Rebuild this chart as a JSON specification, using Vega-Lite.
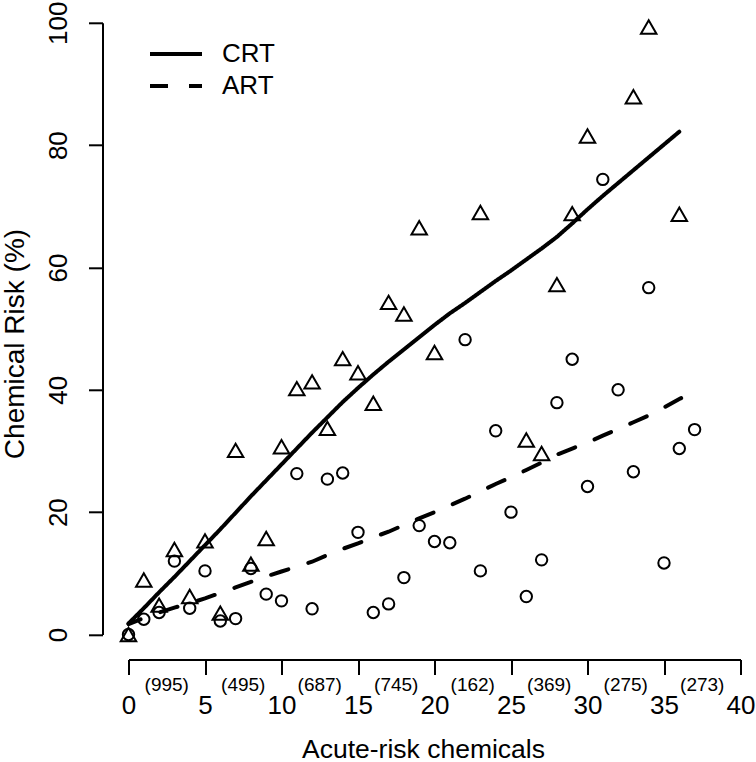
{
  "$schema": "https://vega.github.io/schema/vega-lite/v6.json",
  "width": 612,
  "height": 611.7,
  "autosize": {"type": "none"},
  "padding": {"left": 128.5, "top": 22.8, "right": 15.5, "bottom": 127.5},
  "background": "white",
  "config": {
    "view": {"stroke": null},
    "font": "Liberation Sans",
    "axis": {
      "domainColor": "black", "domainWidth": 2, "tickColor": "black", "tickWidth": 2,
      "labelColor": "black", "titleColor": "black", "titleFontWeight": "normal",
      "grid": false, "labelFont": "Liberation Sans", "titleFont": "Liberation Sans",
      "labelFlush": false, "labelOverlap": false
    }
  },
  "datasets": {
    "points": [
      {"x": 0, "y": 0, "series": "CRT"}, {"x": 1, "y": 8.9, "series": "CRT"}, {"x": 2, "y": 4.8, "series": "CRT"},
      {"x": 3, "y": 13.9, "series": "CRT"}, {"x": 4, "y": 6.2, "series": "CRT"}, {"x": 5, "y": 15.3, "series": "CRT"},
      {"x": 6, "y": 3.5, "series": "CRT"}, {"x": 7, "y": 30.1, "series": "CRT"}, {"x": 8, "y": 11.5, "series": "CRT"},
      {"x": 9, "y": 15.7, "series": "CRT"}, {"x": 10, "y": 30.7, "series": "CRT"}, {"x": 11, "y": 40.2, "series": "CRT"},
      {"x": 12, "y": 41.3, "series": "CRT"}, {"x": 13, "y": 33.7, "series": "CRT"}, {"x": 14, "y": 45.1, "series": "CRT"},
      {"x": 15, "y": 42.8, "series": "CRT"}, {"x": 16, "y": 37.8, "series": "CRT"}, {"x": 17, "y": 54.3, "series": "CRT"},
      {"x": 18, "y": 52.4, "series": "CRT"}, {"x": 19, "y": 66.5, "series": "CRT"}, {"x": 20, "y": 46.1, "series": "CRT"},
      {"x": 23, "y": 69.0, "series": "CRT"}, {"x": 26, "y": 31.8, "series": "CRT"}, {"x": 27, "y": 29.6, "series": "CRT"},
      {"x": 28, "y": 57.2, "series": "CRT"}, {"x": 29, "y": 68.8, "series": "CRT"}, {"x": 30, "y": 81.5, "series": "CRT"},
      {"x": 33, "y": 87.9, "series": "CRT"}, {"x": 34, "y": 99.3, "series": "CRT"}, {"x": 36, "y": 68.7, "series": "CRT"},
      {"x": 0, "y": 0, "series": "ART"}, {"x": 1, "y": 2.5, "series": "ART"}, {"x": 2, "y": 3.6, "series": "ART"},
      {"x": 3, "y": 12.0, "series": "ART"}, {"x": 4, "y": 4.3, "series": "ART"}, {"x": 5, "y": 10.4, "series": "ART"},
      {"x": 6, "y": 2.2, "series": "ART"}, {"x": 7, "y": 2.6, "series": "ART"}, {"x": 8, "y": 10.8, "series": "ART"},
      {"x": 9, "y": 6.6, "series": "ART"}, {"x": 10, "y": 5.5, "series": "ART"}, {"x": 11, "y": 26.3, "series": "ART"},
      {"x": 12, "y": 4.2, "series": "ART"}, {"x": 13, "y": 25.4, "series": "ART"}, {"x": 14, "y": 26.4, "series": "ART"},
      {"x": 15, "y": 16.7, "series": "ART"}, {"x": 16, "y": 3.6, "series": "ART"}, {"x": 17, "y": 5.0, "series": "ART"},
      {"x": 18, "y": 9.3, "series": "ART"}, {"x": 19, "y": 17.8, "series": "ART"}, {"x": 20, "y": 15.2, "series": "ART"},
      {"x": 21, "y": 15.0, "series": "ART"}, {"x": 22, "y": 48.2, "series": "ART"}, {"x": 23, "y": 10.4, "series": "ART"},
      {"x": 24, "y": 33.3, "series": "ART"}, {"x": 25, "y": 20.0, "series": "ART"}, {"x": 26, "y": 6.2, "series": "ART"},
      {"x": 27, "y": 12.2, "series": "ART"}, {"x": 28, "y": 37.9, "series": "ART"}, {"x": 29, "y": 45.0, "series": "ART"},
      {"x": 30, "y": 24.2, "series": "ART"}, {"x": 31, "y": 74.4, "series": "ART"}, {"x": 32, "y": 40.0, "series": "ART"},
      {"x": 33, "y": 26.6, "series": "ART"}, {"x": 34, "y": 56.7, "series": "ART"}, {"x": 35, "y": 11.7, "series": "ART"},
      {"x": 36, "y": 30.4, "series": "ART"}, {"x": 37, "y": 33.5, "series": "ART"}
    ],
    "fits": [
      {"x": 0, "y": 1.8, "series": "CRT"}, {"x": 1, "y": 4.3, "series": "CRT"}, {"x": 2, "y": 6.9, "series": "CRT"},
      {"x": 3, "y": 9.4, "series": "CRT"}, {"x": 4, "y": 12.0, "series": "CRT"}, {"x": 5, "y": 14.6, "series": "CRT"},
      {"x": 6, "y": 17.2, "series": "CRT"}, {"x": 7, "y": 19.9, "series": "CRT"}, {"x": 8, "y": 22.6, "series": "CRT"},
      {"x": 9, "y": 25.2, "series": "CRT"}, {"x": 10, "y": 27.8, "series": "CRT"}, {"x": 11, "y": 30.4, "series": "CRT"},
      {"x": 12, "y": 33.0, "series": "CRT"}, {"x": 13, "y": 35.5, "series": "CRT"}, {"x": 14, "y": 38.0, "series": "CRT"},
      {"x": 15, "y": 40.3, "series": "CRT"}, {"x": 16, "y": 42.5, "series": "CRT"}, {"x": 17, "y": 44.6, "series": "CRT"},
      {"x": 18, "y": 46.6, "series": "CRT"}, {"x": 19, "y": 48.6, "series": "CRT"}, {"x": 20, "y": 50.6, "series": "CRT"},
      {"x": 21, "y": 52.5, "series": "CRT"}, {"x": 22, "y": 54.2, "series": "CRT"}, {"x": 23, "y": 56.0, "series": "CRT"},
      {"x": 24, "y": 57.8, "series": "CRT"}, {"x": 25, "y": 59.5, "series": "CRT"}, {"x": 26, "y": 61.3, "series": "CRT"},
      {"x": 27, "y": 63.1, "series": "CRT"}, {"x": 28, "y": 65.0, "series": "CRT"}, {"x": 29, "y": 67.2, "series": "CRT"},
      {"x": 30, "y": 69.5, "series": "CRT"}, {"x": 31, "y": 71.7, "series": "CRT"}, {"x": 32, "y": 73.8, "series": "CRT"},
      {"x": 33, "y": 75.9, "series": "CRT"}, {"x": 34, "y": 78.0, "series": "CRT"}, {"x": 35, "y": 80.1, "series": "CRT"},
      {"x": 36, "y": 82.2, "series": "CRT"},
      {"x": 0, "y": 1.7, "series": "ART"}, {"x": 1, "y": 2.7, "series": "ART"}, {"x": 2, "y": 3.6, "series": "ART"},
      {"x": 3, "y": 4.4, "series": "ART"}, {"x": 4, "y": 5.1, "series": "ART"}, {"x": 5, "y": 5.9, "series": "ART"},
      {"x": 6, "y": 6.8, "series": "ART"}, {"x": 7, "y": 7.7, "series": "ART"}, {"x": 8, "y": 8.6, "series": "ART"},
      {"x": 9, "y": 9.5, "series": "ART"}, {"x": 10, "y": 10.3, "series": "ART"}, {"x": 11, "y": 11.1, "series": "ART"},
      {"x": 12, "y": 11.9, "series": "ART"}, {"x": 13, "y": 13.0, "series": "ART"}, {"x": 14, "y": 14.0, "series": "ART"},
      {"x": 15, "y": 14.9, "series": "ART"}, {"x": 16, "y": 15.9, "series": "ART"}, {"x": 17, "y": 16.8, "series": "ART"},
      {"x": 18, "y": 17.9, "series": "ART"}, {"x": 19, "y": 19.0, "series": "ART"}, {"x": 20, "y": 20.0, "series": "ART"},
      {"x": 21, "y": 21.1, "series": "ART"}, {"x": 22, "y": 22.2, "series": "ART"}, {"x": 23, "y": 23.4, "series": "ART"},
      {"x": 24, "y": 24.6, "series": "ART"}, {"x": 25, "y": 25.7, "series": "ART"}, {"x": 26, "y": 26.9, "series": "ART"},
      {"x": 27, "y": 28.1, "series": "ART"}, {"x": 28, "y": 29.4, "series": "ART"}, {"x": 29, "y": 30.4, "series": "ART"},
      {"x": 30, "y": 31.4, "series": "ART"}, {"x": 31, "y": 32.5, "series": "ART"}, {"x": 32, "y": 33.6, "series": "ART"},
      {"x": 33, "y": 34.7, "series": "ART"}, {"x": 34, "y": 35.8, "series": "ART"}, {"x": 35, "y": 37.1, "series": "ART"},
      {"x": 36, "y": 38.5, "series": "ART"}, {"x": 37, "y": 39.7, "series": "ART"}
    ],
    "counts": [
      {"x": 2.5, "label": "(995)"}, {"x": 7.5, "label": "(495)"}, {"x": 12.5, "label": "(687)"},
      {"x": 17.5, "label": "(745)"}, {"x": 22.5, "label": "(162)"}, {"x": 27.5, "label": "(369)"},
      {"x": 32.5, "label": "(275)"}, {"x": 37.5, "label": "(273)"}
    ]
  },
  "layer": [
    {
      "data": {"name": "points"},
      "transform": [{"filter": "datum.series === 'CRT'"}],
      "mark": {"type": "point", "shape": "triangle-up", "size": 240, "filled": false, "stroke": "black", "strokeWidth": 2, "opacity": 1},
      "encoding": {
        "x": {
          "field": "x", "type": "quantitative",
          "scale": {"domain": [0, 40], "nice": false, "zero": false},
          "axis": {
            "values": [0, 5, 10, 15, 20, 25, 30, 35, 40],
            "title": "Acute-risk chemicals",
            "offset": 25, "tickSize": 15, "labelPadding": 18, "labelFontSize": 26,
            "titleFontSize": 26.5, "titleX": 294.5, "titleY": 97.5, "titleBaseline": "alphabetic"
          }
        },
        "y": {
          "field": "y", "type": "quantitative",
          "scale": {"domain": [0, 100], "nice": false, "zero": false},
          "axis": {
            "values": [0, 20, 40, 60, 80, 100],
            "title": "Chemical Risk (%)",
            "offset": 26, "tickSize": 14, "labelAngle": -90, "labelAlign": "center",
            "labelBaseline": "alphabetic", "labelPadding": 22.5, "labelFontSize": 26,
            "titleFontSize": 28, "titleAngle": -90, "titleBaseline": "alphabetic",
            "titleX": -79.2, "titleY": 320.7
          }
        }
      }
    },
    {
      "data": {"name": "points"},
      "transform": [{"filter": "datum.series === 'ART'"}],
      "mark": {"type": "point", "shape": "circle", "size": 130, "filled": false, "stroke": "black", "strokeWidth": 2, "opacity": 1},
      "encoding": {
        "x": {"field": "x", "type": "quantitative"},
        "y": {"field": "y", "type": "quantitative"}
      }
    },
    {
      "data": {"name": "fits"},
      "mark": {"type": "line", "color": "black", "strokeWidth": 4, "strokeCap": "round", "strokeDashOffset": 5},
      "encoding": {
        "x": {"field": "x", "type": "quantitative"},
        "y": {"field": "y", "type": "quantitative"},
        "strokeDash": {
          "field": "series", "type": "nominal",
          "scale": {"domain": ["CRT", "ART"], "range": [[1, 0], [18, 21]]},
          "legend": {
            "orient": "none", "legendX": 19.5, "legendY": 15.2, "title": null,
            "symbolType": "stroke", "symbolSize": 2704, "symbolStrokeWidth": 4,
            "symbolStrokeColor": "black", "clipHeight": 32, "rowPadding": 0,
            "labelFontSize": 26, "labelOffset": 18, "labelColor": "black",
            "labelFont": "Liberation Sans", "padding": 0
          }
        }
      }
    },
    {
      "data": {"name": "counts"},
      "mark": {"type": "text", "fontSize": 19, "baseline": "middle", "align": "center", "color": "black", "font": "Liberation Sans"},
      "encoding": {
        "x": {"field": "x", "type": "quantitative"},
        "y": {"datum": -8.26, "type": "quantitative"},
        "text": {"field": "label", "type": "nominal"}
      }
    }
  ]
}
